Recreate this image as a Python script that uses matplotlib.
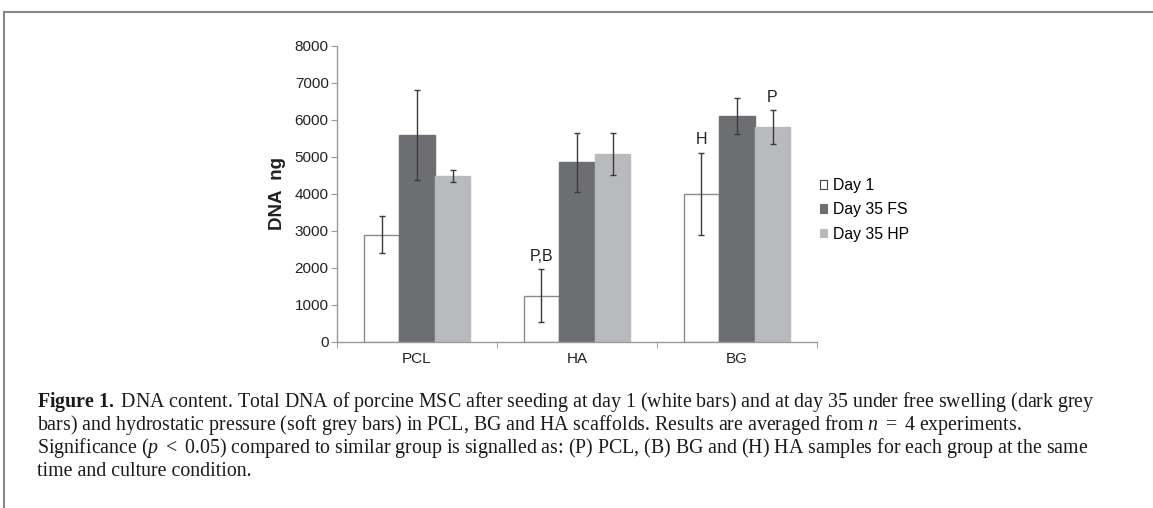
import matplotlib
matplotlib.use("Agg")
import matplotlib.pyplot as plt
import numpy as np
from matplotlib.patches import Patch
from matplotlib.lines import Line2D

# Data
groups = ["PCL", "HA", "BG"]
series = ["Day 1", "Day 35 FS", "Day 35 HP"]
day1 = [2900, 1250, 4000]
day1_err = [510, 715, 1110]
fs = [5600, 4850, 6100]
fs_err = [1215, 800, 490]
hp = [4480, 5070, 5800]
hp_err = [150, 570, 450]
sig_labels = [(1, 0, "P,B"), (2, 0, "H"), (2, 2, "P")]  # (group, series, text)

caption = [
    r"$\mathbf{Figure\ 1.}$ DNA content. Total DNA of porcine MSC after seeding at day 1 (white bars) and at day 35 under free swelling (dark grey",
    r"bars) and hydrostatic pressure (soft grey bars) in PCL, BG and HA scaffolds. Results are averaged from $n\ =\ 4$ experiments.",
    r"Significance ($p\ <\ 0.05$) compared to similar group is signalled as: (P) PCL, (B) BG and (H) HA samples for each group at the same",
    r"time and culture condition.",
]

plt.rcParams['font.family'] = ['Liberation Sans', 'DejaVu Sans']
plt.rcParams['mathtext.fontset'] = 'custom'
plt.rcParams['mathtext.rm'] = 'Liberation Serif'
plt.rcParams['mathtext.it'] = 'Liberation Serif:italic'
plt.rcParams['mathtext.bf'] = 'Liberation Serif:bold'

fig = plt.figure(figsize=(11.53, 5.08), dpi=100)
ax = fig.add_axes([0.2923, 0.3268, 0.4163, 0.5833])

colors = ["white", "#6d6e72", "#b9babe"]
edges = ["#8a8a8a", "#6d6e72", "#b9babe"]
values = [day1, fs, hp]
errs = [day1_err, fs_err, hp_err]
w = 0.222
x = np.arange(len(groups))
for i, (vals, er) in enumerate(zip(values, errs)):
    pos = x + (i - 1) * w
    ax.bar(pos, vals, w, color=colors[i], edgecolor=edges[i], linewidth=1, zorder=2)
    ax.errorbar(pos, vals, yerr=er, fmt='none', ecolor='#3a3a3a', elinewidth=1,
                capsize=2.5, capthick=1, zorder=3)

for g, s, txt in sig_labels:
    top = values[s][g] + errs[s][g]
    ax.annotate(txt, (x[g] + (s - 1) * w, top), xytext=(0, 4), textcoords='offset points',
                ha='center', va='bottom', fontsize=11.5, color='#222222')

ax.set_xlim(-0.5, 2.5)
ax.set_ylim(0, 8000)
ax.set_yticks(range(0, 8001, 1000))
ax.set_xticks(x)
ax.set_xticklabels(groups)
ax.set_xticks([-0.5, 0.5, 1.5, 2.5], minor=True)
ax.tick_params(axis='x', which='major', length=0, pad=7, labelsize=11, labelcolor='#222222')
ax.tick_params(axis='x', which='minor', length=4, color='#999999', direction='out')
ax.tick_params(axis='y', length=4, color='#999999', direction='out', labelsize=11,
               labelcolor='#222222', pad=2)
for sp in ['top', 'right']:
    ax.spines[sp].set_visible(False)
for sp in ['left', 'bottom']:
    ax.spines[sp].set_color('#999999')
    ax.spines[sp].set_linewidth(1)
ax.set_ylabel("DNA  ng", fontsize=13.5, fontweight='bold', color='#222222', labelpad=6)

handles = [Patch(facecolor=colors[i], edgecolor=edges[i] if i else '#444444', linewidth=0.8)
           for i in range(3)]
fig.legend(handles, series, loc='center left', bbox_to_anchor=(0.699, 0.587), frameon=False,
           fontsize=11.3, handlelength=0.45, handleheight=0.45, handletextpad=0.35,
           labelspacing=0.6)

# frame around figure (top and left)
fig.add_artist(Line2D([0.0035, 1.0], [0.976, 0.976], color='#888888', lw=1.5))
fig.add_artist(Line2D([0.0035, 0.0035], [0.0, 0.976], color='#888888', lw=1.5))

# caption, sized to fit the justified width
renderer = fig.canvas.get_renderer()
probe = fig.text(0, 0, caption[0], fontsize=10, family='Liberation Serif')
wpx = probe.get_window_extent(renderer).width
probe.remove()
fs_cap = 10 * (1058 / wpx)
ys = [402, 425, 448, 471]
for line, yy in zip(caption, ys):
    fig.text(37 / 1153, 1 - yy / 508, line, fontsize=fs_cap, family='Liberation Serif',
             va='center', ha='left', color='#1a1a1a')

fig.savefig("out.png", dpi=100)
